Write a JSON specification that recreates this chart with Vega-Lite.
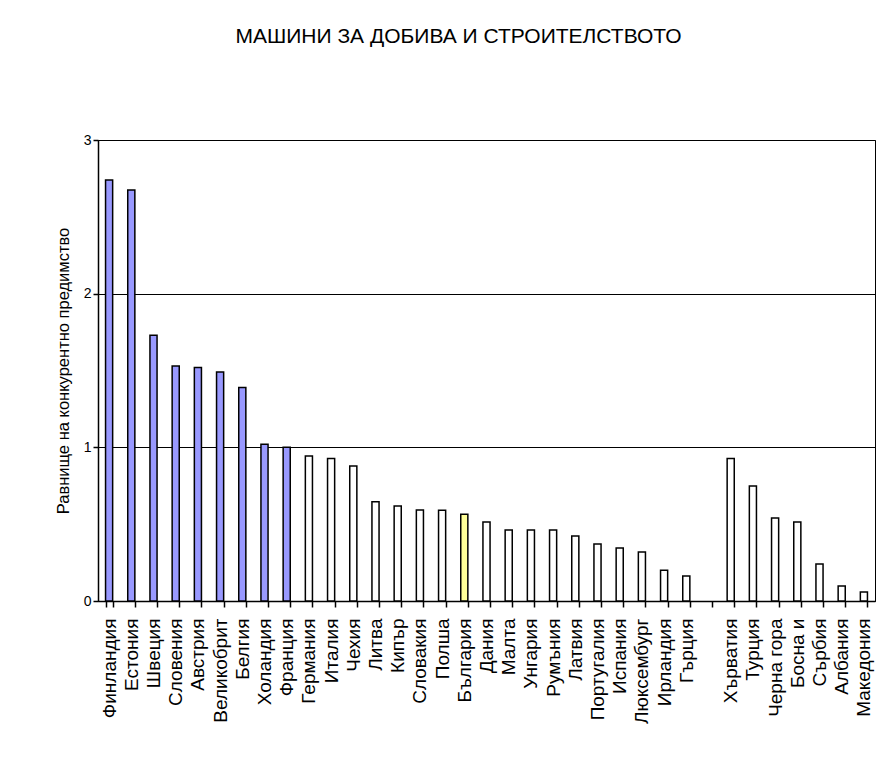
{
  "$schema": "https://vega.github.io/schema/vega-lite/v6.json",
  "autosize": {"type": "none"},
  "width": 777,
  "height": 461,
  "padding": {"left": 98, "top": 140, "right": 20, "bottom": 160},
  "background": "white",
  "title": {"text": "МАШИНИ ЗА ДОБИВА И СТРОИТЕЛСТВОТО", "fontSize": 21, "fontWeight": "normal", "font": "Liberation Sans", "color": "black", "offset": 86, "dx": -28},
  "config": {
    "font": "Liberation Sans",
    "view": {"stroke": "black", "strokeWidth": 1}
  },
  "data": {"values": [
    {"country": "Финландия", "value": 2.74, "group": "lead"},
    {"country": "Естония", "value": 2.674, "group": "lead"},
    {"country": "Швеция", "value": 1.73, "group": "lead"},
    {"country": "Словения", "value": 1.53, "group": "lead"},
    {"country": "Австрия", "value": 1.52, "group": "lead"},
    {"country": "Великобрит", "value": 1.49, "group": "lead"},
    {"country": "Белгия", "value": 1.39, "group": "lead"},
    {"country": "Холандия", "value": 1.02, "group": "lead"},
    {"country": "Франция", "value": 1.0, "group": "lead"},
    {"country": "Германия", "value": 0.943, "group": "other"},
    {"country": "Италия", "value": 0.928, "group": "other"},
    {"country": "Чехия", "value": 0.878, "group": "other"},
    {"country": "Литва", "value": 0.646, "group": "other"},
    {"country": "Кипър", "value": 0.618, "group": "other"},
    {"country": "Словакия", "value": 0.592, "group": "other"},
    {"country": "Полша", "value": 0.59, "group": "other"},
    {"country": "България", "value": 0.564, "group": "bg"},
    {"country": "Дания", "value": 0.514, "group": "other"},
    {"country": "Малта", "value": 0.462, "group": "other"},
    {"country": "Унгария", "value": 0.462, "group": "other"},
    {"country": "Румъния", "value": 0.462, "group": "other"},
    {"country": "Латвия", "value": 0.423, "group": "other"},
    {"country": "Португалия", "value": 0.371, "group": "other"},
    {"country": "Испания", "value": 0.345, "group": "other"},
    {"country": "Люксембург", "value": 0.319, "group": "other"},
    {"country": "Ирландия", "value": 0.2, "group": "other"},
    {"country": "Гърция", "value": 0.163, "group": "other"},
    {"country": "Хърватия", "value": 0.928, "group": "other"},
    {"country": "Турция", "value": 0.748, "group": "other"},
    {"country": "Черна гора", "value": 0.54, "group": "other"},
    {"country": "Босна и", "value": 0.514, "group": "other"},
    {"country": "Сърбия", "value": 0.24, "group": "other"},
    {"country": "Албания", "value": 0.098, "group": "other"},
    {"country": "Македония", "value": 0.059, "group": "other"}
  ]},
  "mark": {"type": "bar", "stroke": "black", "strokeWidth": 1.5},
  "encoding": {
    "x": {
      "field": "country", "type": "nominal",
      "scale": {
        "domain": ["Финландия", "Естония", "Швеция", "Словения", "Австрия", "Великобрит", "Белгия", "Холандия", "Франция", "Германия", "Италия", "Чехия", "Литва", "Кипър", "Словакия", "Полша", "България", "Дания", "Малта", "Унгария", "Румъния", "Латвия", "Португалия", "Испания", "Люксембург", "Ирландия", "Гърция", " ", "Хърватия", "Турция", "Черна гора", "Босна и", "Сърбия", "Албания", "Македония"],
        "paddingInner": 0.68, "paddingOuter": 0.34
      },
      "axis": {
        "title": null, "labelAngle": -90, "labelAlign": "right", "labelBaseline": "middle",
        "labelFontSize": 19, "labelColor": "black", "labelPadding": 11,
        "tickBand": "extent", "tickColor": "black", "tickSize": 6, "tickWidth": 1.5,
        "domainColor": "black", "domainWidth": 1.5, "grid": false, "labelOverlap": false
      }
    },
    "y": {
      "field": "value", "type": "quantitative",
      "scale": {"domain": [0, 3], "nice": false},
      "axis": {
        "title": "Равнище на конкурентно предимство", "titleFontSize": 16.5, "titleFontWeight": "normal",
        "titleColor": "black", "titlePadding": 12,
        "values": [0, 1, 2, 3], "format": "d", "labelFontSize": 14, "labelColor": "black",
        "tickColor": "black", "tickSize": 5, "tickWidth": 1.5,
        "domainColor": "black", "domainWidth": 1.5,
        "grid": true, "gridColor": "black", "gridWidth": 1.2, "gridOpacity": 1
      }
    },
    "color": {
      "field": "group", "type": "nominal", "legend": null,
      "scale": {"domain": ["lead", "bg", "other"], "range": ["#9999FF", "#FFFF99", "#FFFFFF"]}
    }
  }
}
